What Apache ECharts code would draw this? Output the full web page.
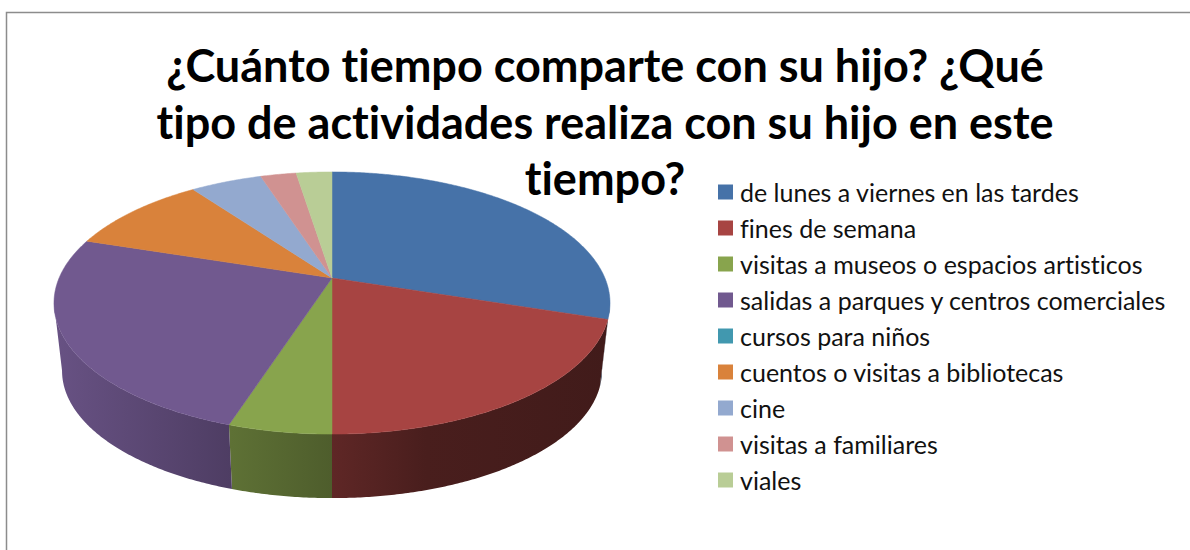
<!DOCTYPE html>
<html>
<head>
<meta charset="utf-8">
<style>
  html, body { margin: 0; padding: 0; background: #fff; }
  #chart { width: 1190px; height: 550px; }
  #chart text { font-variant-ligatures: none; }
</style>
<script src="https://cdn.jsdelivr.net/npm/echarts@6/dist/echarts.min.js"></script>
</head>
<body>
<div id="chart"></div>
<script>
var titleText = '¿Cuánto tiempo comparte con su hijo? ¿Qué\ntipo de actividades realiza con su hijo en este\ntiempo?';
var categories = [
    'de lunes a viernes en las tardes',
    'fines de semana',
    'visitas a museos o espacios artisticos',
    'salidas a parques y centros comerciales',
    'cursos para niños',
    'cuentos o visitas a bibliotecas',
    'cine',
    'visitas a familiares',
    'viales'
];
var values = [12, 8, 2, 10, 0, 4, 2, 1, 1];
var colors = ['#4672a8', '#a74442', '#88a44d', '#71598f', '#4198af', '#d9823b', '#93a9cf', '#d09291', '#b9cd96'];

var total = values.reduce(function (a, b) { return a + b; }, 0);

// tilted disc: top face is a perspective view of a circle, so the apex sits above the ellipse centre
var cx = 332, apexY = 278, k = -0.191, sx = 272.9, sy = 126.3;
var ellipseY = 303, floorY = 370.8, floorScale = 0.971;

function topPoint(deg) {
    var r = deg * Math.PI / 180;
    var X = Math.sin(r), Y = -Math.cos(r);
    var w = 1 + k * Y;
    return [cx + sx * X / w, apexY + sy * Y / w];
}
function floorPoint(p) {
    return [cx + floorScale * (p[0] - cx), floorY + floorScale * (p[1] - ellipseY)];
}

// side wall gets darker from left to right
var shadeStops = [[0, 0.92], [0.32, 0.69], [0.5, 0.57], [0.67, 0.44], [1, 0.39]];
function shade(color, f) {
    var n = parseInt(color.slice(1), 16);
    return 'rgb(' + Math.round((n >> 16) * f) + ',' + Math.round(((n >> 8) & 255) * f) + ',' + Math.round((n & 255) * f) + ')';
}
function wallFill(color) {
    return new echarts.graphic.LinearGradient(53, 0, 610, 0, shadeStops.map(function (s) {
        return { offset: s[0], color: shade(color, s[1]) };
    }), true);
}

function sliceRender(index) {
    var before = values.slice(0, index).reduce(function (a, b) { return a + b; }, 0);
    return function (params, api) {
        var v = api.value(0);
        if (!v) {
            return null;
        }
        var start = before / total * 360, end = (before + v) / total * 360;
        var top = [[cx, apexY]], rim = [];
        for (var a = start; a < end; a += 0.5) {
            top.push(topPoint(a));
            if (topPoint(a)[1] >= ellipseY) rim.push(topPoint(a));
        }
        top.push(topPoint(end));
        if (topPoint(end)[1] >= ellipseY) rim.push(topPoint(end));

        var children = [];
        if (rim.length > 1) {
            var wall = rim.concat(rim.map(floorPoint).reverse());
            children.push({
                type: 'polygon',
                shape: { points: wall },
                style: { fill: wallFill(colors[index]), stroke: null }
            });
        }
        children.push({
            type: 'polygon',
            shape: { points: top },
            style: { fill: colors[index], stroke: colors[index], lineWidth: 0.5 }
        });
        return { type: 'group', children: children };
    };
}

// svg renderer so the css above can switch off Lato's "ti" and "fi" ligatures
var myChart = echarts.init(document.getElementById('chart'), null, { renderer: 'svg' });
myChart.setOption({
    animation: false,
    backgroundColor: '#fff',
    title: {
        text: titleText,
        left: 600,
        top: 32,
        textAlign: 'center',
        textStyle: {
            fontFamily: 'Lato',
            fontWeight: 'bold',
            fontSize: 45,
            lineHeight: 56.5,
            color: '#000'
        }
    },
    legend: {
        orient: 'vertical',
        left: 713,
        top: 173,
        icon: 'rect',
        itemWidth: 15,
        itemHeight: 15,
        itemGap: 8,
        data: categories,
        selectedMode: false,
        textStyle: {
            fontFamily: 'Lato',
            fontSize: 25,
            lineHeight: 28,
            color: '#111',
            padding: [0, 0, 0, 2]
        }
    },
    graphic: [{
        type: 'polyline',
        silent: true,
        shape: { points: [[6.5, 550], [6.5, 12.5], [1190, 12.5]] },
        style: { stroke: '#8c8c8c', lineWidth: 1.5, fill: null }
    }],
    series: categories.map(function (name, i) {
        return {
            type: 'custom',
            name: name,
            coordinateSystem: 'none',
            silent: true,
            itemStyle: { color: colors[i] },
            renderItem: sliceRender(i),
            data: [[values[i]]]
        };
    })
});
</script>
</body>
</html>
